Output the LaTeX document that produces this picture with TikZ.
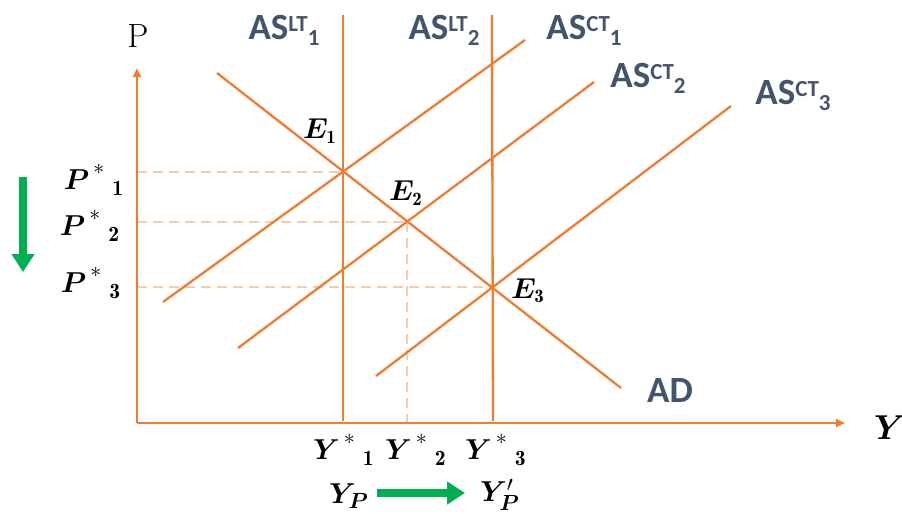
\documentclass[tikz,border=0pt]{standalone}
\usepackage{amsmath,bm}
\usepackage{fontspec}
\usetikzlibrary{arrows.meta}
\newfontfamily\calib{Carlito}
\definecolor{asorange}{HTML}{ED7D31}
\definecolor{guidepeach}{HTML}{F8CBAD}
\definecolor{slate}{HTML}{44546A}
\definecolor{movegreen}{HTML}{00B050}
\newcommand{\aslabel}[2]{AS\raisebox{3.7pt}{\fontsize{11.5}{12}\selectfont #1}\raisebox{-3pt}{\fontsize{11.5}{12}\selectfont #2}}
\newcommand{\starlab}[2]{$\bm{#1}^{\hspace{2pt}\raisebox{2pt}{$\scriptstyle *$}}{}_{\hspace{3.5pt}\raisebox{-1pt}{$\scriptstyle\mathbf{#2}$}}$}

\begin{document}
\begin{tikzpicture}[x=0.5pt,y=-0.5pt,
  asline/.style={asorange, line width=1.15pt},
  axisline/.style={asorange, line width=1.3pt, -{Triangle[length=4.5pt,width=4pt]}},
  guideline/.style={guidepeach, line width=1pt, dash pattern=on 5pt off 3pt},
  greenarrow/.style={movegreen, line width=4pt, -{Triangle[length=9pt,width=11pt]}},
  aslab/.style={text=slate, font=\calib\bfseries\fontsize{18.5}{20}\selectfont},
  starlab/.style={font=\fontsize{15.5}{17}\selectfont},
  elab/.style={font=\fontsize{13.5}{15}\selectfont}]
\useasboundingbox (0,0) rectangle (902,514);

% points of the diagram
\coordinate (O) at (137,423);
\coordinate (xend) at (845,423);
\coordinate (yend) at (137,68);
\coordinate (lt1top) at (343,15);
\coordinate (lt1bot) at (343,421);
\coordinate (lt2top) at (492,15);
\coordinate (lt2bot) at (493,421);
\coordinate (ad1) at (217,73);
\coordinate (ad2) at (621,388);
\coordinate (ct1a) at (163,302);
\coordinate (ct1b) at (525,40);
\coordinate (ct2a) at (238,348);
\coordinate (ct2b) at (594,82);
\coordinate (ct3a) at (376,376);
\coordinate (ct3b) at (731,106);
\coordinate (E1) at (343,172);
\coordinate (E2) at (407,222);
\coordinate (E3) at (493,287);

% guides
\draw[guideline] (O |- E1) -- (E1);
\draw[guideline] (O |- E2) -- (E2);
\draw[guideline] (O |- E3) -- (E3);
\draw[guideline] (E2) -- (E2 |- O);

% axes
\draw[axisline] (O) -- (yend);
\draw[axisline] (O) -- (xend);

% curves
\draw[asline] (lt1top) -- (lt1bot);
\draw[asline] (lt2top) -- (lt2bot);
\draw[asline] (ad1) -- (ad2);
\draw[asline] (ct1a) -- (ct1b);
\draw[asline] (ct2a) -- (ct2b);
\draw[asline] (ct3a) -- (ct3b);

% labels
\node[font=\fontsize{16.8}{18}\selectfont] (Plab) at (138,36) {P};
\node[font=\fontsize{16.5}{18}\selectfont] (Ylab) at (890,428) {$\bm{Y}$};
\node[aslab] (lt1lab) at (284,30) {\aslabel{LT}{1}};
\node[aslab] (lt2lab) at (444,30) {\aslabel{LT}{2}};
\node[aslab] (ct1lab) at (584,30) {\aslabel{CT}{1}};
\node[aslab] (ct2lab) at (648,78) {\aslabel{CT}{2}};
\node[aslab] (ct3lab) at (793,95) {\aslabel{CT}{3}};
\node[aslab] (adlab) at (670,391) {AD};
\node[elab] (E1lab) at (320,131) {$\bm{E}_{\mathbf{1}}$};
\node[elab] (E2lab) at (406,193) {$\bm{E}_{\mathbf{2}}$};
\node[elab] (E3lab) at (528,291) {$\bm{E}_{\mathbf{3}}$};
\node[starlab] (P1lab) at (94,180) {\starlab{P}{1}};
\node[starlab] (P2lab) at (90,226) {\starlab{P}{2}};
\node[starlab] (P3lab) at (91,283) {\starlab{P}{3}};
\node[starlab] (Y1lab) at (344,450) {\starlab{Y}{1}};
\node[starlab] (Y2lab) at (416,450) {\starlab{Y}{2}};
\node[starlab] (Y3lab) at (496,450) {\starlab{Y}{3}};
\node[starlab] (YPlab) at (349,496) {$\bm{Y}_{\bm{P}}$};
\node[starlab] (YPplab) at (500,495) {$\bm{Y}'_{\bm{P}}$};

% shifts
\coordinate (pdown1) at (23,177);
\coordinate (pdown2) at (23,272);
\coordinate (ymove1) at (377,493);
\coordinate (ymove2) at (465,493);
\draw[greenarrow] (pdown1) -- (pdown2);
\draw[greenarrow] (ymove1) -- (ymove2);
\end{tikzpicture}
\end{document}
